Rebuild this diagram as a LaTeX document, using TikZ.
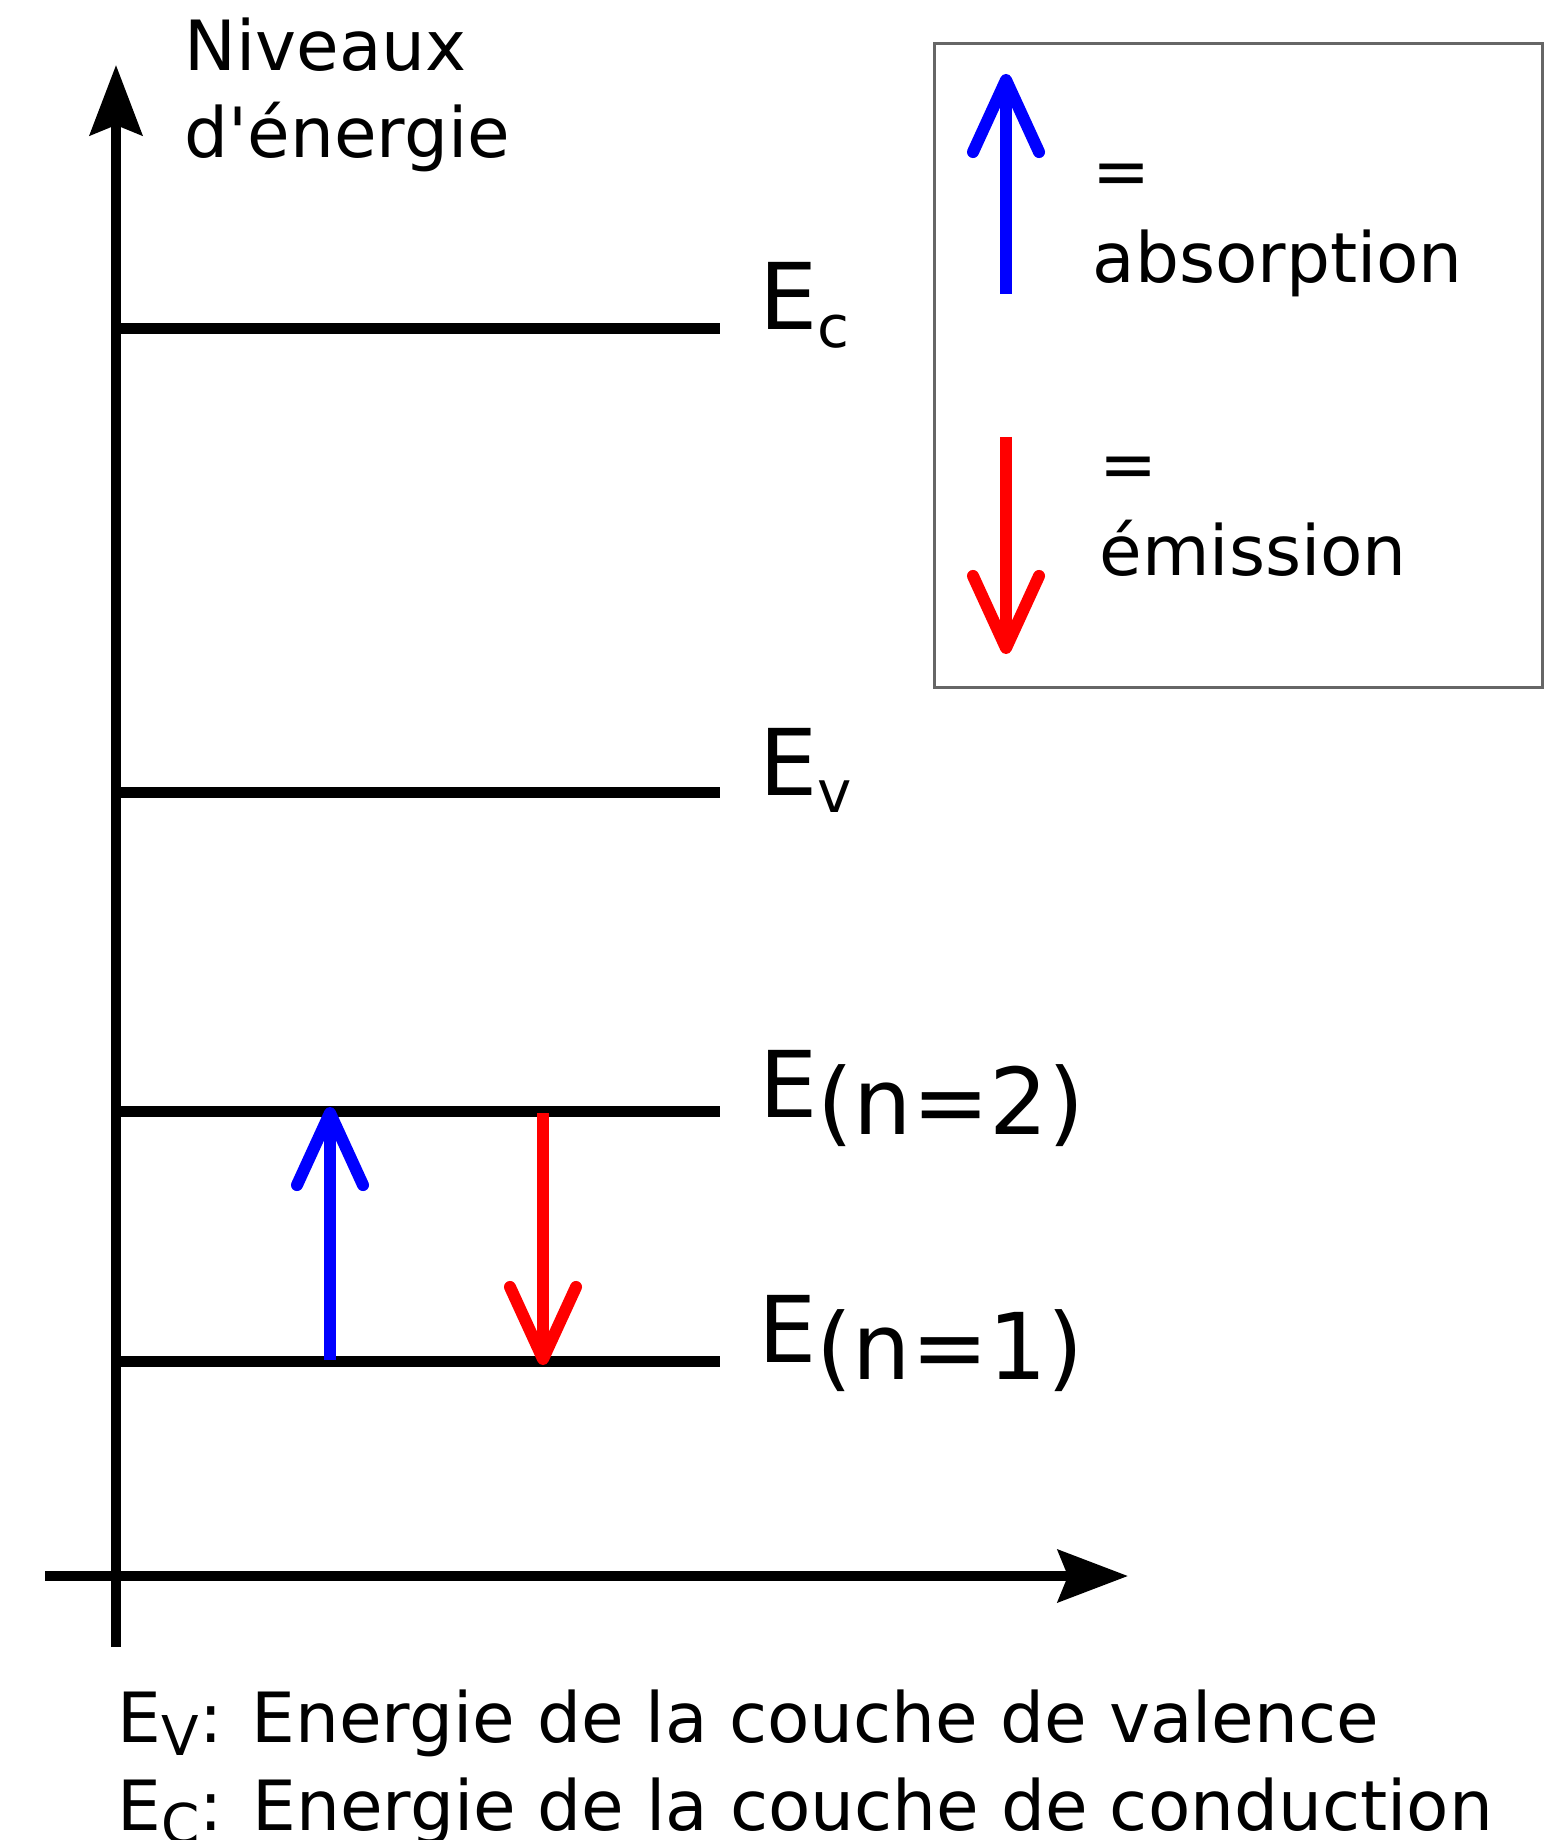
\documentclass[tikz,border=0pt]{standalone}
\usepackage{fontspec}
\setmainfont{DejaVu Sans}
\usetikzlibrary{arrows.meta}

\begin{document}
\begin{tikzpicture}[x=0.01cm, y=-0.01cm,
  axe/.style={line width=0.1cm, -{Stealth[length=0.7cm, width=0.52cm, inset=0.1cm]}},
  niveau/.style={line width=0.11cm},
  trans/.style={line width=0.12cm, -{Straight Barb[length=0.72cm, width=0.66cm, round]}},
  txt/.style={anchor=base west, inner sep=0pt, align=left, font=\fontsize{19.7}{25}\selectfont},
  lbl/.style={anchor=base west, inner sep=0pt, font=\fontsize{26.2}{30}\selectfont}]
  \useasboundingbox (0,0) rectangle (1561,1840);

  % axes
  \coordinate (o1) at (116,1647);
  \coordinate (o2) at (116,65);
  \coordinate (h1) at (45,1576);
  \coordinate (h2) at (1128,1576);
  \draw[axe] (o1) -- (o2);
  \draw[axe] (h1) -- (h2);
  \node[txt] (titre) at (184,158) {Niveaux\\d\textquotesingle énergie};

  % niveaux
  \foreach \y/\lv in {329/c, 792/v, 1111/b, 1361/a} {
    \coordinate (g\lv) at (116,\y);
    \coordinate (d\lv) at (720,\y);
    \draw[niveau] (g\lv) -- (d\lv);
  }
  \node[lbl] (Ec) at (759,330) {E\raisebox{-0.17cm}{\fontsize{16.5}{18}\selectfont c}};
  \node[lbl] (Ev) at (759,795) {E\raisebox{-0.17cm}{\fontsize{16.5}{18}\selectfont v}};
  \node[lbl] (E2) at (759,1117) {E\raisebox{-0.17cm}{(n=2)}};
  \node[lbl] (E1) at (758,1362) {E\raisebox{-0.17cm}{(n=1)}};

  % transitions
  \coordinate (ab1) at (330,1360);
  \coordinate (ab2) at (330,1107);
  \coordinate (em1) at (543,1113);
  \coordinate (em2) at (543,1365);
  \draw[trans, blue] (ab1) -- (ab2);
  \draw[trans, red] (em1) -- (em2);

  % legende
  \coordinate (leg1) at (934,44);
  \coordinate (leg2) at (1542,687);
  \draw[black!60, line width=0.03cm] (leg1) rectangle (leg2);
  \coordinate (lb1) at (1006,294);
  \coordinate (lb2) at (1006,74);
  \coordinate (lr1) at (1006,437);
  \coordinate (lr2) at (1006,654);
  \draw[trans, blue] (lb1) -- (lb2);
  \draw[trans, red] (lr1) -- (lr2);
  \node[txt] (abs) at (1092,283) {=\\absorption};
  \node[txt] (emi) at (1099,576) {=\\émission};

  \node[txt] (legv) at (117,1742) {E\raisebox{-0.13cm}{\fontsize{15.6}{17}\selectfont V}: Energie de la couche de valence};
  \node[txt] (legc) at (117,1830) {E\raisebox{-0.13cm}{\fontsize{15.6}{17}\selectfont C}: Energie de la couche de conduction};
\end{tikzpicture}
\end{document}
